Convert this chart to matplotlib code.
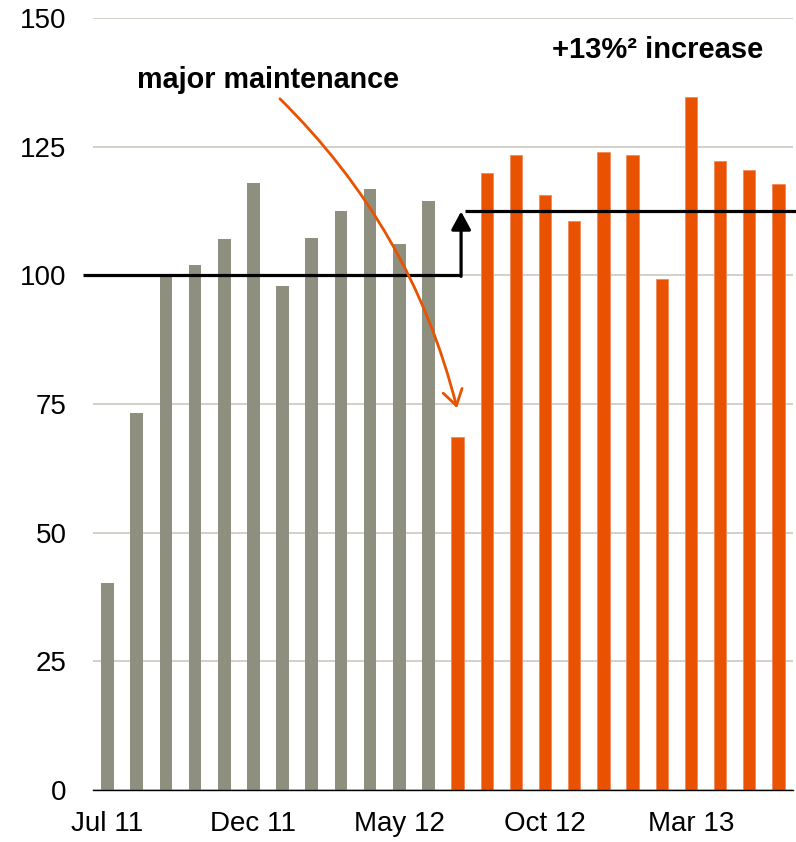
import numpy as np
import matplotlib
matplotlib.use("Agg")
import matplotlib.pyplot as plt
from matplotlib.patches import FancyArrowPatch

plt.rcParams["font.family"] = ["Liberation Sans", "DejaVu Sans"]

# Monthly values, Jul 11 .. Jun 13
months = ["Jul 11", "Aug 11", "Sep 11", "Oct 11", "Nov 11", "Dec 11",
          "Jan 12", "Feb 12", "Mar 12", "Apr 12", "May 12", "Jun 12",
          "Jul 12", "Aug 12", "Sep 12", "Oct 12", "Nov 12", "Dec 12",
          "Jan 13", "Feb 13", "Mar 13", "Apr 13", "May 13", "Jun 13"]
before = [40.2, 73.2, 100.0, 102.0, 107.0, 118.0, 98.0, 107.2, 112.5, 116.8, 106.1, 114.4]
after = [68.6, 119.9, 123.3, 115.6, 110.5, 123.9, 123.4, 99.2, 134.6, 122.3, 120.4, 117.7]
level_before = 100.0
level_after = 112.5
tick_every = 5

gray = "#8f8f7f"
orange = "#e85200"

x_before = np.arange(len(before))
x_after = np.arange(len(before), len(before) + len(after))

fig = plt.figure(figsize=(7.96, 8.42), dpi=100)
ax = fig.add_axes([93 / 796, 52 / 842, 700 / 796, 772 / 842])

ax.bar(x_before, before, width=0.44, color=gray, zorder=2)
ax.bar(x_after, after, width=0.42, color=orange, edgecolor="#f08a5a",
       linewidth=0.6, zorder=2)

ax.set_xlim(-0.5, len(months) - 0.5)
ax.set_ylim(0, 150)
ax.set_yticks(np.arange(0, 151, 25))
ax.set_xticks(np.arange(0, len(months), tick_every))
ax.set_xticklabels(months[::tick_every])
ax.tick_params(axis="y", length=0, pad=19, labelsize=20)
ax.tick_params(axis="x", length=0, pad=15, labelsize=20)
ax.grid(axis="y", color="#c9c9c0", linewidth=1.2, zorder=0)
for s in ["left", "right", "top"]:
    ax.spines[s].set_visible(False)
ax.spines["bottom"].set_color("black")
ax.spines["bottom"].set_linewidth(1.0)
ax.spines["bottom"].set_zorder(3)

# step lines for average levels
x_step = 12.12
ax.plot([-0.84, x_step], [level_before, level_before], color="black",
        lw=2.3, solid_capstyle="butt", clip_on=False, zorder=4)
ax.plot([12.25, 23.6], [level_after, level_after], color="black",
        lw=2.3, solid_capstyle="butt", clip_on=False, zorder=4)
ax.add_patch(FancyArrowPatch((x_step, level_before - 0.2), (x_step, level_after - 0.1),
                             arrowstyle="-|>,head_length=0.55,head_width=0.3",
                             mutation_scale=20, color="black", lw=2.3,
                             shrinkA=0, shrinkB=0, zorder=4))

# annotation arrow
ax.add_patch(FancyArrowPatch((5.91, 134.3), (11.98, 74.2),
                             connectionstyle="arc3,rad=-0.14",
                             arrowstyle="->,head_length=0.55,head_width=0.35",
                             mutation_scale=20, color=orange, lw=2.0,
                             shrinkA=0, shrinkB=0, zorder=5))

ax.text(1.01, 136.4, "major maintenance", fontsize=20.7, fontweight="bold",
        ha="left", va="baseline", zorder=6)
ax.text(18.85, 142.2, "+13%\u00b2 increase", fontsize=21, fontweight="bold",
        ha="center", va="baseline", zorder=6)

fig.savefig("out.png", dpi=100)
